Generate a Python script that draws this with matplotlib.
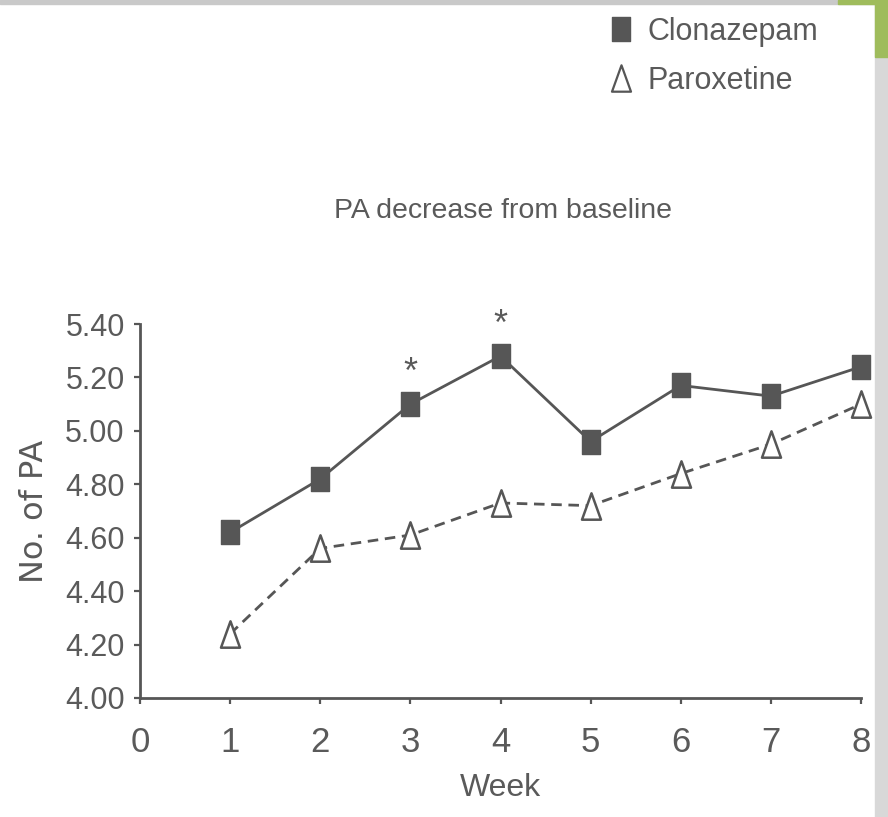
import matplotlib
matplotlib.use("Agg")
import matplotlib.pyplot as plt
from matplotlib.lines import Line2D
from matplotlib.patches import Rectangle
from matplotlib.path import Path

weeks = [1, 2, 3, 4, 5, 6, 7, 8]
clonazepam = [4.62, 4.82, 5.10, 5.28, 4.96, 5.17, 5.13, 5.24]
paroxetine = [4.24, 4.56, 4.61, 4.73, 4.72, 4.84, 4.95, 5.10]
significant_weeks = [3, 4]
x_ticks = [0, 1, 2, 3, 4, 5, 6, 7, 8]
y_ticks = [4.00, 4.20, 4.40, 4.60, 4.80, 5.00, 5.20, 5.40]

DARK = "#565656"
TEXT = "#5a5a5a"
SANS = ["Liberation Sans", "DejaVu Sans"]

# tall, narrow markers (the source image is slightly stretched vertically)
square = Path([(-0.4, -0.5), (0.4, -0.5), (0.4, 0.5), (-0.4, 0.5), (-0.4, -0.5)],
              closed=True)
triangle = Path([(-0.36, -0.5), (0.36, -0.5), (0.0, 0.5), (-0.36, -0.5)],
                closed=True)

fig = plt.figure(figsize=(8.88, 8.17), dpi=100)
ax = fig.add_axes([0.1577, 0.1457, 0.8119, 0.4577])

ax.plot(weeks, clonazepam, color=DARK, lw=2.0, marker=square, ms=17,
        markerfacecolor=DARK, markeredgecolor=DARK, clip_on=False, zorder=3)
ax.plot(weeks, paroxetine, color=DARK, lw=2.0, ls=(0, (3.8, 2.4)),
        marker=triangle, ms=19, markerfacecolor="white",
        markeredgecolor=DARK, markeredgewidth=1.8, clip_on=False, zorder=3)

for wk in significant_weeks:
    val = clonazepam[weeks.index(wk)]
    ax.annotate("*", (wk, val), xytext=(0, 22), textcoords="offset points",
                ha="center", va="center", fontsize=26, color=TEXT,
                family=SANS)

ax.set_xlim(0, 8)
ax.set_ylim(4.0, 5.4)
ax.set_xticks(x_ticks)
ax.set_yticks(y_ticks)
ax.set_xticklabels([str(t) for t in x_ticks], family=SANS, fontsize=25,
                   color=TEXT)
ax.set_yticklabels([f"{t:.2f}" for t in y_ticks], family=SANS, fontsize=22,
                   color=TEXT)
ax.tick_params(axis="both", direction="out", length=4, width=1.6, color=DARK)
ax.tick_params(axis="y", pad=7)
ax.tick_params(axis="x", pad=16)

for side in ["top", "right"]:
    ax.spines[side].set_visible(False)
for side in ["left", "bottom"]:
    ax.spines[side].set_color(DARK)
    ax.spines[side].set_linewidth(2)

ax.set_xlabel("Week", family=SANS, fontsize=23, color=TEXT, labelpad=10)
ax.set_ylabel("No. of PA", family="DejaVu Sans", fontsize=23, color=TEXT,
              labelpad=11)

fig.text(0.566, 0.742, "PA decrease from baseline", family=SANS,
         fontsize=20.5, color=TEXT, ha="center", va="center")

handles = [
    Line2D([], [], ls="none", marker=square, ms=17, color=DARK),
    Line2D([], [], ls="none", marker=triangle, ms=19, markerfacecolor="white",
           markeredgecolor=DARK, markeredgewidth=1.6),
]
fig.legend(handles, ["Clonazepam", "Paroxetine"], loc="upper left",
           bbox_to_anchor=(0.6545, 1.013), frameon=False, handlelength=0.8,
           handletextpad=0.48, labelspacing=0.62,
           prop={"family": SANS, "size": 22}, labelcolor=TEXT)

# slide background peeking in at the edges
fig.patches.append(Rectangle((875 / 888, 0), 13 / 888, 1, transform=fig.transFigure,
                             color="#d8d8d8", zorder=0))
fig.patches.append(Rectangle((0, 1 - 4 / 817), 1, 4 / 817, transform=fig.transFigure,
                             color="#c9c9c9", zorder=0))
fig.patches.append(Rectangle((838 / 888, 1 - 4 / 817), 50 / 888, 4 / 817,
                             transform=fig.transFigure, color="#9fbc5c", zorder=0))
fig.patches.append(Rectangle((875 / 888, 1 - 57 / 817), 13 / 888, 57 / 817,
                             transform=fig.transFigure, color="#9fbc5c", zorder=0))

fig.savefig("out.png", dpi=100)
